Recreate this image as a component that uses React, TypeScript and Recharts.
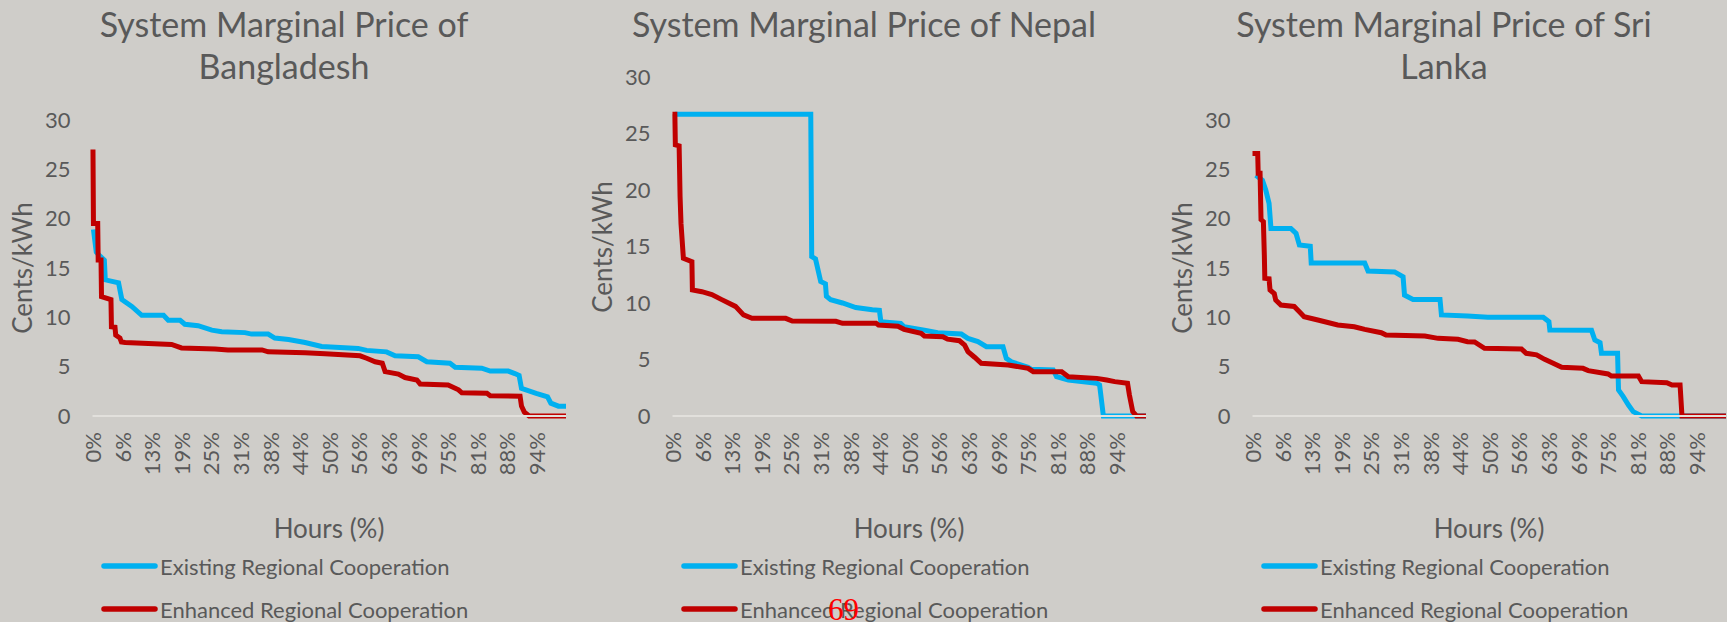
import { LineChart, Line, XAxis, YAxis } from 'recharts';

const xTicks = [0, 6.25, 12.5, 18.75, 25, 31.25, 37.5, 43.75, 50, 56.25, 62.5, 68.75, 75, 81.25, 87.5, 93.75];
const yTicks = [0, 5, 10, 15, 20, 25, 30];
const seriesNames = ['Existing Regional Cooperation', 'Enhanced Regional Cooperation'];
const seriesColors = ['#00B0F0', '#C00000'];

// [hours %, cents/kWh]
const bangladeshExisting = [
  [0.2, 18.9], [0.8, 16.6], [1.6, 16.2], [2.5, 15.8], [2.7, 13.8], [5.5, 13.5], [6.2, 11.8], [8.3, 11.1],
  [10.4, 10.2], [15, 10.2], [16, 9.7], [18.5, 9.7], [19.5, 9.3], [22.3, 9.15], [25.2, 8.7], [27.3, 8.55],
  [32.2, 8.45], [33.6, 8.3], [37.1, 8.3], [38.5, 7.9], [41.4, 7.75], [44.9, 7.45], [48.4, 7.05], [56.1, 6.85],
  [57.9, 6.65], [62.1, 6.5], [63.9, 6.1], [68.8, 6.0], [70.6, 5.5], [75.5, 5.35], [76.6, 4.95], [82.2, 4.85],
  [84, 4.55], [87.8, 4.55], [89.2, 4.3], [90.1, 4.1], [90.6, 2.8], [93.7, 2.3], [96.1, 1.95], [96.8, 1.3],
  [98.4, 1.0], [100, 1.0],
];
const bangladeshEnhanced = [
  [0.1, 27], [0.2, 19.5], [1.1, 19.5], [1.2, 15.8], [1.8, 15.8], [1.9, 12.1], [3.9, 11.8], [4.0, 9.05],
  [4.75, 9.0], [4.9, 8.2], [5.8, 7.9], [6.1, 7.5], [6.9, 7.45], [16.7, 7.25], [18.8, 6.9], [25.9, 6.8],
  [28.6, 6.7], [35.8, 6.7], [37.1, 6.5], [44.9, 6.4], [49.1, 6.3], [56.5, 6.1], [57.9, 5.85], [59.7, 5.5],
  [61.2, 5.35], [61.8, 4.5], [64.6, 4.25], [66, 3.9], [68.5, 3.65], [69.2, 3.25], [75.1, 3.15], [77.3, 2.65],
  [78, 2.35], [83.3, 2.3], [84, 2.05], [90.3, 2.0], [90.6, 1.0], [91.2, 0.4], [92.2, 0], [100, 0],
];
const nepalExisting = [
  [0.5, 26.7], [29.2, 26.7], [29.4, 14.1], [30.2, 13.9], [31.3, 11.9], [32.3, 11.7], [32.5, 10.6], [33.4, 10.3],
  [35.9, 10.0], [38.7, 9.6], [42.2, 9.4], [43.7, 9.35], [44, 8.35], [48.2, 8.2], [48.9, 7.9], [53.2, 7.6],
  [56, 7.37], [61, 7.25], [62.4, 6.87], [64.5, 6.58], [66.3, 6.13], [69.8, 6.13], [70.5, 5.1], [71.6, 4.8],
  [75.1, 4.3], [75.8, 4.13], [80.4, 4.07], [81.1, 3.48], [83.6, 3.19], [89.6, 2.9], [90.2, 2.74], [91, 0],
  [100, 0],
];
const nepalEnhanced = [
  [0, 26.7], [0.5, 26.7], [0.6, 24], [1.4, 23.9], [1.6, 19.4], [1.8, 17], [2.3, 13.95], [4.1, 13.65],
  [4.2, 11.15], [6.2, 11.0], [8.3, 10.75], [10.4, 10.3], [13.3, 9.7], [15, 8.95], [16.8, 8.65], [23.9, 8.64],
  [25.3, 8.4], [34.5, 8.38], [35.9, 8.2], [43, 8.2], [43.5, 8.05], [47.6, 7.95], [48.9, 7.67], [52.5, 7.32],
  [53.2, 7.08], [57.1, 7.02], [58.1, 6.8], [60.6, 6.66], [61.7, 6.28], [62.4, 5.7], [63.8, 5.2], [65.2, 4.66],
  [70.9, 4.51], [75.1, 4.22], [76.2, 3.92], [82.2, 3.92], [83.6, 3.48], [89.6, 3.33], [91.7, 3.19], [93.4, 3.04],
  [96.1, 2.9], [96.5, 1.86], [97.2, 0.38], [98, 0], [100, 0],
];
const sriLankaExisting = [
  [0.7, 24.4], [2.1, 23.9], [2.8, 22.9], [3.5, 21.55], [3.9, 19.0], [8.1, 19.0], [9.2, 18.5], [9.9, 17.33],
  [12.2, 17.2], [12.4, 15.5], [23.7, 15.5], [24.4, 14.7], [30, 14.6], [31.8, 14.1], [32.1, 12.26], [33.9, 11.82],
  [39.6, 11.82], [39.9, 10.24], [45.4, 10.13], [49.7, 10.0], [61.4, 10.0], [62.6, 9.56], [62.8, 8.72], [71.6, 8.68],
  [72.3, 7.7], [73.4, 7.43], [73.7, 6.35], [77.1, 6.35], [77.3, 2.64], [78.3, 1.96], [79.4, 1.11], [80.4, 0.44],
  [82.2, 0], [100, 0],
];
const sriLankaEnhanced = [
  [0, 26.6], [1.1, 26.6], [1.2, 24.6], [1.6, 24.6], [1.8, 19.9], [2.3, 19.7], [2.5, 16.3], [2.6, 13.95],
  [3.5, 13.9], [3.7, 12.77], [4.6, 12.4], [4.9, 11.76], [6, 11.25], [8.8, 11.1], [9.9, 10.57], [10.9, 10.07],
  [13.8, 9.73], [18, 9.22], [21.5, 9.05], [23.7, 8.78], [27.2, 8.44], [28.2, 8.2], [36.4, 8.1], [39.2, 7.87],
  [43.4, 7.77], [45.4, 7.53], [46.9, 7.5], [49, 6.86], [56.8, 6.8], [57.8, 6.35], [60, 6.2], [61.7, 5.74],
  [63.5, 5.34], [65.3, 4.93], [69.8, 4.83], [70.9, 4.6], [75.1, 4.26], [75.8, 4.05], [81.5, 4.05], [82.2, 3.48],
  [87.5, 3.38], [88.6, 3.14], [90.3, 3.14], [90.7, 0], [100, 0],
];

const FONT = 'Lato, "Open Sans", sans-serif';
const TEXT = '#595959';
const BG = '#CFCDC9';

const toPoints = (pts: number[][]) => pts.map(([x, y]) => ({ x, y }));

const panels = [
  { left: 0, plotTop: 120, title: ['System Marginal Price of', 'Bangladesh'], series: [bangladeshExisting, bangladeshEnhanced] },
  { left: 580, plotTop: 77, title: ['System Marginal Price of Nepal'], series: [nepalExisting, nepalEnhanced] },
  { left: 1160, plotTop: 120, title: ['System Marginal Price of Sri', 'Lanka'], series: [sriLankaExisting, sriLankaEnhanced] },
];

const XTick = ({ x, y, payload }: any) => (
  <text
    x={x}
    y={y}
    transform={`rotate(-90 ${x} ${y})`}
    textAnchor="end"
    dominantBaseline="central"
    fill={TEXT}
    fontSize={22}
    fontFamily={FONT}
  >
    {Math.round(payload.value)}%
  </text>
);

const Panel = ({ left, plotTop, title, series }: any) => {
  const plotBottom = 416;
  return (
    <div style={{ position: 'absolute', left, top: 0, width: 580, height: 622 }}>
      <LineChart
        width={580}
        height={622}
        margin={{ top: plotTop, right: 14, bottom: 622 - plotBottom - 30, left: 0 }}
        style={{ fontFamily: FONT }}
      >
        <XAxis
          type="number"
          dataKey="x"
          domain={[0, 100]}
          ticks={xTicks}
          interval={0}
          height={30}
          tickLine={false}
          tickSize={0}
          tickMargin={16}
          axisLine={{ stroke: '#E2E0DC', strokeWidth: 2 }}
          tick={<XTick />}
        />
        <YAxis
          type="number"
          domain={[0, 30]}
          ticks={yTicks}
          interval={0}
          width={92.5}
          axisLine={false}
          tickLine={false}
          tickSize={0}
          tickMargin={22}
          tick={{ fill: TEXT, fontSize: 22, fontFamily: FONT }}
        />
        {series.map((pts: number[][], i: number) => (
          <Line
            key={seriesNames[i]}
            data={toPoints(pts)}
            dataKey="y"
            name={seriesNames[i]}
            type="linear"
            stroke={seriesColors[i]}
            strokeWidth={5}
            dot={false}
            activeDot={false}
            isAnimationActive={false}
          />
        ))}
      </LineChart>

      <div
        style={{
          position: 'absolute', left: 0, width: 568, top: 3, textAlign: 'center',
          fontFamily: FONT, fontSize: 34, lineHeight: '42px', color: TEXT,
        }}
      >
        {title.map((t: string) => <div key={t}>{t}</div>)}
      </div>

      <div
        style={{
          position: 'absolute', left: 0, top: (plotTop + plotBottom) / 2 - 15, width: 44, height: 30,
          display: 'flex', alignItems: 'center', justifyContent: 'center',
        }}
      >
        <div style={{ transform: 'rotate(-90deg)', whiteSpace: 'nowrap', fontFamily: FONT, fontSize: 26, color: TEXT }}>
          Cents/kWh
        </div>
      </div>

      <div
        style={{
          position: 'absolute', left: 229, width: 200, top: 513, height: 30, lineHeight: '30px',
          textAlign: 'center', fontFamily: FONT, fontSize: 26, color: TEXT,
        }}
      >
        Hours (%)
      </div>

      {seriesNames.map((name, i) => (
        <div
          key={name}
          style={{
            position: 'absolute', left: 100, top: 566 + i * 43 - 15, height: 30,
            display: 'flex', alignItems: 'center', whiteSpace: 'nowrap',
            fontFamily: FONT, fontSize: 22, color: TEXT,
          }}
        >
          <svg width={58} height={10} style={{ marginRight: 2 }}>
            <line x1={4} y1={5} x2={55} y2={5} stroke={seriesColors[i]} strokeWidth={5.5} strokeLinecap="round" />
          </svg>
          <span>{name}</span>
        </div>
      ))}
    </div>
  );
};

export default function App() {
  return (
    <div
      style={{
        position: 'absolute', left: 0, top: 0, width: 1727, height: 622,
        overflow: 'hidden', background: BG,
      }}
    >
      {panels.map((p) => (
        <Panel key={p.title.join(' ')} {...p} />
      ))}
      <span
        style={{
          position: 'absolute', left: 828, top: 594, fontFamily: '"Liberation Serif", serif',
          fontSize: 31, lineHeight: '31px', color: '#FF0000',
        }}
      >
        69
      </span>
    </div>
  );
}
